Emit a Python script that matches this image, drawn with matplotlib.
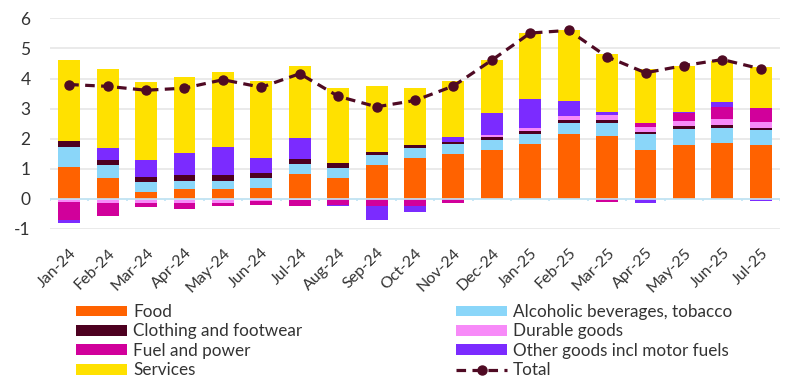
import numpy as np
import matplotlib
matplotlib.use("Agg")
import matplotlib.pyplot as plt
from matplotlib.patches import Patch
from matplotlib.lines import Line2D

plt.rcParams.update({
    'font.family': ['Lato', 'DejaVu Sans'],
    'axes.unicode_minus': False,
})

# ---------------- data ----------------
months = ["Jan-24", "Feb-24", "Mar-24", "Apr-24", "May-24", "Jun-24", "Jul-24",
          "Aug-24", "Sep-24", "Oct-24", "Nov-24", "Dec-24", "Jan-25", "Feb-25",
          "Mar-25", "Apr-25", "May-25", "Jun-25", "Jul-25"]

food = [1.06, 0.68, 0.22, 0.32, 0.32, 0.35, 0.84, 0.71, 1.13, 1.35, 1.48, 1.62,
        1.82, 2.14, 2.10, 1.62, 1.78, 1.87, 1.78]
alcohol = [0.65, 0.43, 0.35, 0.29, 0.29, 0.34, 0.31, 0.32, 0.32, 0.33, 0.33, 0.35,
           0.35, 0.39, 0.43, 0.52, 0.55, 0.50, 0.52]
clothing = [0.20, 0.19, 0.17, 0.20, 0.18, 0.16, 0.17, 0.17, 0.10, 0.10, 0.08, 0.10,
            0.10, 0.09, 0.10, 0.07, 0.10, 0.10, 0.07]
durable = [-0.11, -0.15, -0.15, -0.15, -0.13, -0.08, -0.04, 0.0, 0.0, 0.0, 0.0, 0.06,
           0.07, 0.12, 0.17, 0.17, 0.17, 0.20, 0.17]
fuel = [-0.58, -0.42, -0.11, -0.18, -0.11, -0.13, -0.20, -0.21, -0.25, -0.25, -0.14, 0.0,
        0.0, 0.0, -0.11, 0.13, 0.24, 0.37, 0.49]
other = [-0.11, 0.39, 0.55, 0.72, 0.94, 0.50, 0.70, -0.03, -0.44, -0.19, 0.18, 0.74,
         0.99, 0.52, 0.09, -0.13, 0.04, 0.19, -0.07]
services = [2.71, 2.61, 2.61, 2.51, 2.50, 2.58, 2.38, 2.48, 2.21, 1.89, 1.84, 1.76,
            2.19, 2.35, 1.94, 1.82, 1.52, 1.36, 1.36]
total = [3.80, 3.74, 3.61, 3.68, 3.96, 3.71, 4.16, 3.41, 3.06, 3.27, 3.75, 4.61,
         5.51, 5.60, 4.72, 4.19, 4.43, 4.63, 4.32]

series = [
    ("Food", food, "#FF6200"),
    ("Alcoholic beverages, tobacco", alcohol, "#8AD6F9"),
    ("Clothing and footwear", clothing, "#4D0020"),
    ("Durable goods", durable, "#F78AF8"),
    ("Fuel and power", fuel, "#D1009B"),
    ("Other goods incl motor fuels", other, "#7B2BFF"),
    ("Services", services, "#FFE100"),
]
total_color = "#4F0A23"

# ---------------- plot ----------------
fig = plt.figure(figsize=(8, 3.88), dpi=100)
ax = fig.add_axes([0.0625, 0.4098, 0.9125, 0.5430])

x = np.arange(len(months))
pos_bottom = np.zeros(len(months))
neg_bottom = np.zeros(len(months))

for name, vals, col in series:
    v = np.array(vals)
    bottom = np.where(v >= 0, pos_bottom, neg_bottom)
    ax.bar(x, v, width=0.57, bottom=bottom, color=col, zorder=2)
    pos_bottom += np.where(v >= 0, v, 0)
    neg_bottom += np.where(v < 0, v, 0)

ax.plot(x, total, color=total_color, lw=2.3, ls=(0, (3, 2)),
        marker="o", markersize=6.5, zorder=4)

# zero line with small ticks between categories
ax.axhline(0, color="#BFE4F6", lw=1.2, zorder=3)
ax.vlines(np.arange(len(months) + 1) - 0.5, -0.07, 0, color="#BFE4F6", lw=1.2, zorder=3)

ax.set_xlim(-0.5, len(months) - 0.5)
ax.set_ylim(-1, 6)
ax.set_yticks(range(-1, 7))
ax.yaxis.grid(True, color="#E6E6E6", lw=1.2, zorder=0)
ax.set_axisbelow(True)
for s in ax.spines.values():
    s.set_visible(False)

ax.set_xticks(x)
ax.set_xticklabels(months, rotation=45, ha="right", rotation_mode="anchor",
                   fontsize=11.5, color="#333333")
ax.tick_params(axis="x", length=0, pad=12)
ax.tick_params(axis="y", length=0, pad=14, labelsize=12.5, labelcolor="#333333")

# ---------------- legend ----------------
h = {name: Patch(facecolor=col) for name, vals, col in series}
total_handle = Line2D([], [], color=total_color, lw=2.3, ls=(0, (3, 2)),
                      marker="o", markersize=6.5)

leg_kw = dict(frameon=False, fontsize=12.3, handlelength=3.0, handleheight=0.6,
              handletextpad=0.35, labelspacing=0.2, borderaxespad=0,
              borderpad=0, labelcolor="#333333")

leg1 = fig.legend([h["Food"], h["Clothing and footwear"], h["Fuel and power"], h["Services"]],
                  ["Food", "Clothing and footwear", "Fuel and power", "Services"],
                  loc="upper left", bbox_to_anchor=(76 / 800, 1 - 304 / 388), **leg_kw)
leg2 = fig.legend([h["Alcoholic beverages, tobacco"], h["Durable goods"],
                   h["Other goods incl motor fuels"], total_handle],
                  ["Alcoholic beverages, tobacco", "Durable goods",
                   "Other goods incl motor fuels", "Total"],
                  loc="upper left", bbox_to_anchor=(456 / 800, 1 - 304 / 388), **leg_kw)

fig.savefig("out.png", dpi=100)
